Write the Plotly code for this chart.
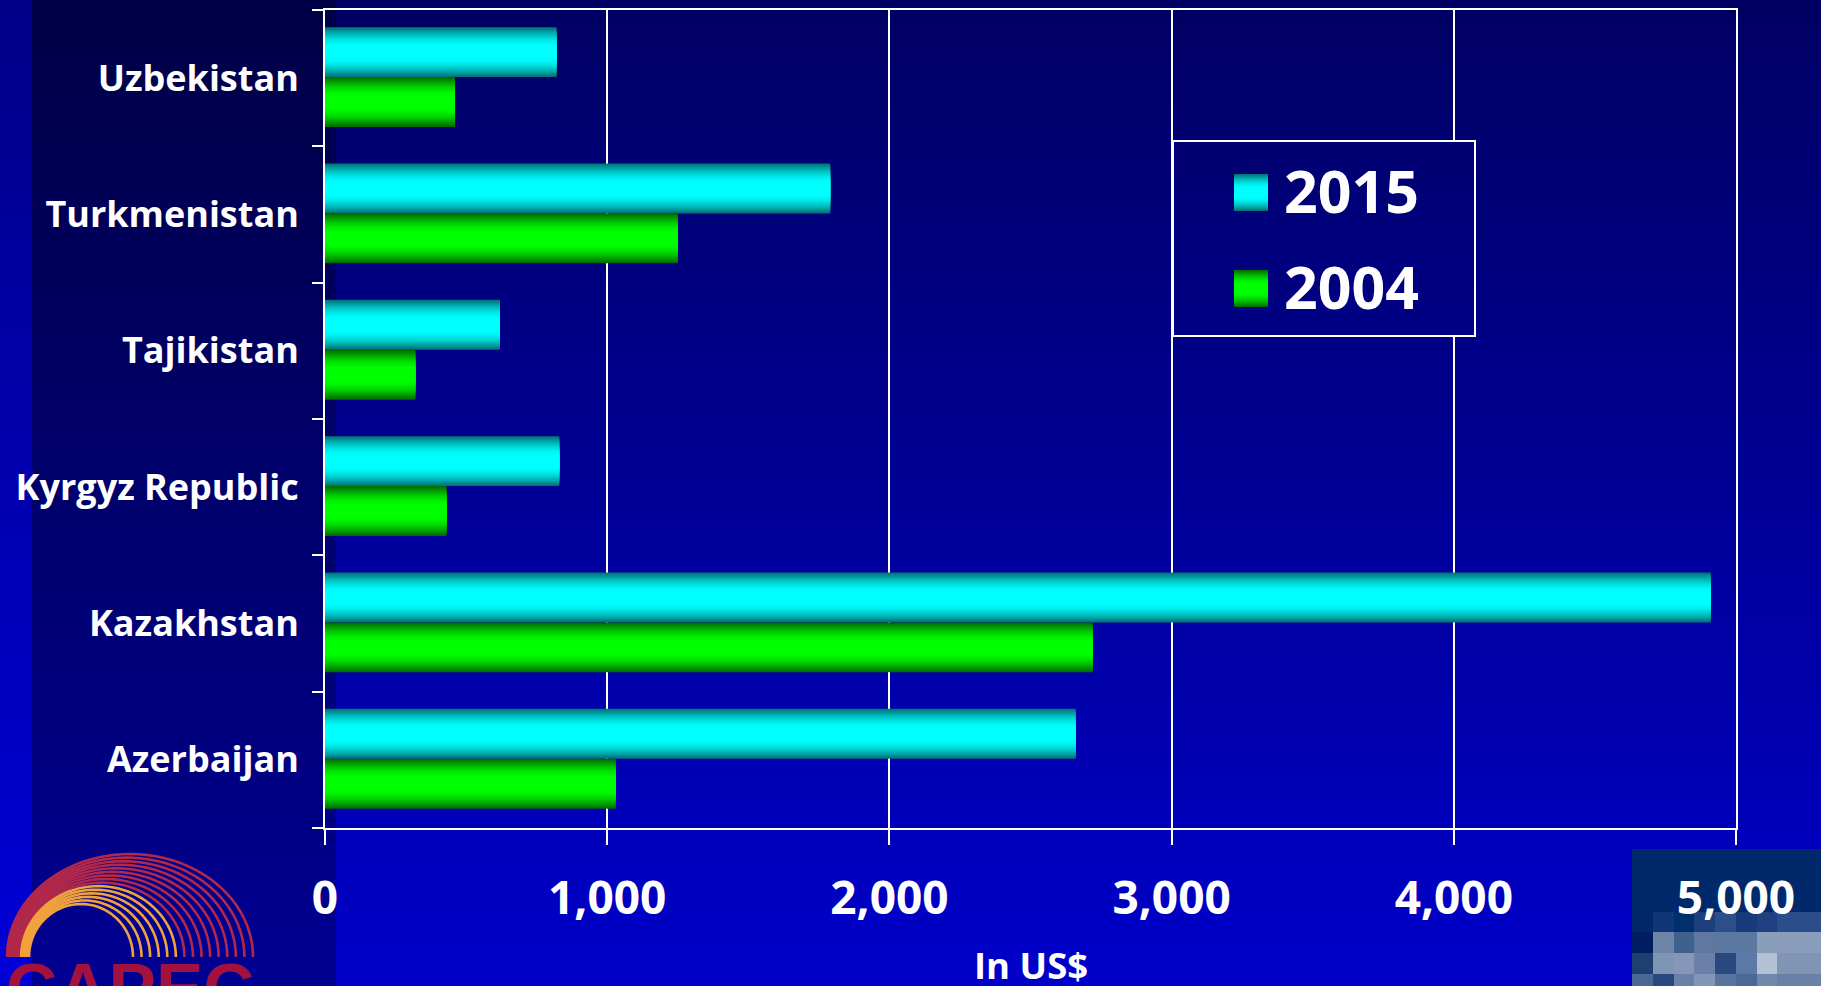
import math
import plotly.graph_objects as go

# ---- data -------------------------------------------------------------
countries = ["Azerbaijan", "Kazakhstan", "Kyrgyz Republic",
             "Tajikistan", "Turkmenistan", "Uzbekistan"]
gdp_2015 = [2660, 4910, 830, 620, 1790, 820]
gdp_2004 = [1030, 2720, 430, 320, 1250, 460]
series_names = ["2015", "2004"]
x_tick_values = [0, 1000, 2000, 3000, 4000, 5000]
x_tick_labels = ["0", "1,000", "2,000", "3,000", "4,000", "5,000"]
x_title = "In US$"
logo_text = "CAPEC"

# ---- page geometry ----------------------------------------------------
W, H = 1821, 986
L, R, T, B = 325, 85, 10, 158
PW = W - L - R
PH = H - T - B
FONT = "Open Sans"


def xp(px):
    """pixel x -> paper x"""
    return (px - L) / PW


def yp(py):
    """pixel y (from top) -> paper y"""
    return (H - B - py) / PH


def rgb(c):
    return "rgb(%d,%d,%d)" % tuple(int(round(v)) for v in c)


def lerp(a, b, t):
    return tuple(x + (y - x) * t for x, y in zip(a, b))


shapes = []

# ---- slide background: vertical blue gradients in three columns --------
columns = [
    (0, 32, (0, 0, 0x88), (0, 0, 0xD8)),
    (32, 336, (0, 0, 0x46), (0, 0, 0x92)),
    (336, W, (0, 0, 0x62), (0, 0, 0xCA)),
]
NB = 90
for x0, x1, top, bot in columns:
    for i in range(NB):
        y0 = H * i / NB
        y1 = H * (i + 1) / NB
        c = lerp(top, bot, (i + 0.5) / NB)
        shapes.append(dict(type="rect", xref="paper", yref="paper", layer="below",
                           x0=xp(x0), x1=xp(x1), y0=yp(y0 - 0.6), y1=yp(y1 + 0.6),
                           fillcolor=rgb(c), line=dict(width=0)))

# ---- mosaic block in the lower right corner ----------------------------
shapes.append(dict(type="rect", xref="paper", yref="paper", layer="below",
                   x0=xp(1632), x1=xp(W), y0=yp(849), y1=yp(913),
                   fillcolor="#00296B", line=dict(width=0)))
mosaic_cols = [1632, 1653, 1674, 1694, 1715, 1736, 1757, 1777, 1799, W]
mosaic_rows = [912, 932, 953, 974, H]
mosaic = [
    ["#00286A", "#123479", "#002F6E", "#1E3F7E", "#2E4E8A", "#18397A", "#203F80", "#2A4C88", "#2A4C88"],
    ["#001E60", "#6F85A8", "#40608E", "#6078A0", "#5A78A0", "#5A78A0", "#8A9DBA", "#8A9DBA", "#8A9DBA"],
    ["#1E4070", "#8094B4", "#8596B6", "#6A80A8", "#2A4880", "#5A78A8", "#B4C0D4", "#8094B4", "#8094B4"],
    ["#4A6896", "#2A4880", "#6A80A8", "#8496B8", "#5A74A0", "#4A6898", "#7088AC", "#6A80A8", "#6A80A8"],
]
for r in range(4):
    for c in range(9):
        shapes.append(dict(type="rect", xref="paper", yref="paper", layer="below",
                           x0=xp(mosaic_cols[c]), x1=xp(mosaic_cols[c + 1]),
                           y0=yp(mosaic_rows[r]), y1=yp(mosaic_rows[r + 1]),
                           fillcolor=mosaic[r][c], line=dict(width=0)))

# ---- logo arcs (bottom left) ------------------------------------------
N_ARCS = 15
base_y = 957
for i in range(N_ARCS):
    t = i / (N_ARCS - 1)
    xr = 253 - 120 * t
    xl = 7 + 22 * t
    top = 854 + 50 * t
    cx, rx, ry = (xl + xr) / 2, (xr - xl) / 2, base_y - top
    pts = []
    for k in range(49):
        a = math.pi * k / 48
        pts.append((xp(cx + rx * math.cos(a)), yp(base_y - ry * math.sin(a))))
    path = "M " + " L ".join("%.5f,%.5f" % p for p in pts)
    col = "#B2284A" if i < 9 else "#F2A23C"
    shapes.append(dict(type="path", xref="paper", yref="paper", layer="below",
                       path=path, line=dict(color=col, width=2.6)))

# ---- bars: each bar is built from nested layers to give a tube shading ---
BAR_W = 0.366
SPLIT = 0.008
FRACS = [1.0 - 0.05 * k for k in range(17)]


def shade(dark, bright, frac):
    u = min(1.0, max(0.0, (1.0 - frac) / 0.8))
    return rgb(lerp(dark, bright, math.sin(u * math.pi / 2)))


series = [
    (series_names[0], gdp_2015, (0, 118, 122), (0, 255, 255), SPLIT + BAR_W / 2),
    (series_names[1], gdp_2004, (0, 110, 0), (0, 255, 0), SPLIT - BAR_W / 2),
]

fig = go.Figure()
for name, vals, dark, bright, centre in series:
    for frac in FRACS:
        w = BAR_W * frac
        fig.add_trace(go.Bar(
            y=countries, x=vals, orientation="h", name=name,
            width=w, offset=centre - w / 2,
            marker=dict(color=shade(dark, bright, frac), line=dict(width=0)),
            showlegend=False, hovertemplate="%{y}: %{x:,}<extra>" + name + "</extra>",
        ))

# ---- legend box --------------------------------------------------------
LX0, LX1, LY0, LY1 = 1173, 1475, 141, 336
for i in range(12):
    y0 = LY0 + (LY1 - LY0) * i / 12
    y1 = LY0 + (LY1 - LY0) * (i + 1) / 12
    c = lerp((0, 0, 0x62), (0, 0, 0xCA), ((y0 + y1) / 2) / H)
    shapes.append(dict(type="rect", xref="paper", yref="paper", layer="above",
                       x0=xp(LX0), x1=xp(LX1), y0=yp(y0 - 0.5), y1=yp(y1 + 0.5),
                       fillcolor=rgb(c), line=dict(width=0)))
shapes.append(dict(type="rect", xref="paper", yref="paper", layer="above",
                   x0=xp(LX0), x1=xp(LX1), y0=yp(LY0), y1=yp(LY1),
                   fillcolor="rgba(0,0,0,0)", line=dict(color="white", width=2)))

annotations = []
legend_rows = [(174, 211), (270, 307)]
for (name, vals, dark, bright, centre), (my0, my1) in zip(series, legend_rows):
    mid = (my0 + my1) / 2
    half = (my1 - my0) / 2
    for frac in FRACS:
        shapes.append(dict(type="rect", xref="paper", yref="paper", layer="above",
                           x0=xp(1234), x1=xp(1268),
                           y0=yp(mid - half * frac), y1=yp(mid + half * frac),
                           fillcolor=shade(dark, bright, frac), line=dict(width=0)))
    annotations.append(dict(text=name, xref="paper", yref="paper",
                            x=xp(1282), y=yp(mid - 2), xanchor="left", yanchor="middle",
                            showarrow=False,
                            font=dict(family=FONT, size=59, color="white", weight="bold")))

# x-axis title, placed just under the tick labels
annotations.append(dict(text=x_title, xref="paper", yref="paper",
                        x=0.5, y=yp(965), xanchor="center", yanchor="middle",
                        showarrow=False,
                        font=dict(family=FONT, size=36.5, color="white", weight="bold")))

annotations.append(dict(text=logo_text, xref="paper", yref="paper",
                        x=xp(4), y=yp(947), xanchor="left", yanchor="top",
                        showarrow=False,
                        font=dict(family="Liberation Sans", size=71, color="#A3123F",
                                  weight="bold")))

fig.update_layout(
    width=W, height=H,
    margin=dict(l=L, r=R, t=T, b=B, pad=0, autoexpand=False),
    paper_bgcolor="#0000B0",
    plot_bgcolor="rgba(0,0,0,0)",
    barmode="overlay",
    showlegend=False,
    shapes=shapes,
    annotations=annotations,
    xaxis=dict(
        range=[0, 5000], tickvals=x_tick_values, ticktext=x_tick_labels,
        showgrid=True, gridcolor="white", gridwidth=2, zeroline=False,
        showline=True, linecolor="white", linewidth=2, mirror=True,
        ticks="outside", ticklen=15, tickwidth=2, tickcolor="white",
        tickfont=dict(family=FONT, size=46, color="white", weight="bold"),
        ticklabelstandoff=14, automargin=False,
        fixedrange=True,
    ),
    yaxis=dict(
        type="category", categoryorder="array", categoryarray=countries,
        range=[-0.5, 5.5], showgrid=False, zeroline=False,
        showline=True, linecolor="white", linewidth=2, mirror=True,
        ticks="outside", ticklen=11, tickwidth=2, tickcolor="white",
        tickson="boundaries", automargin=False,
        tickfont=dict(family=FONT, size=36, color="white", weight="bold"),
        ticklabelstandoff=17,
        fixedrange=True,
    ),
)

fig.write_html("out.html", config={"displayModeBar": False})
